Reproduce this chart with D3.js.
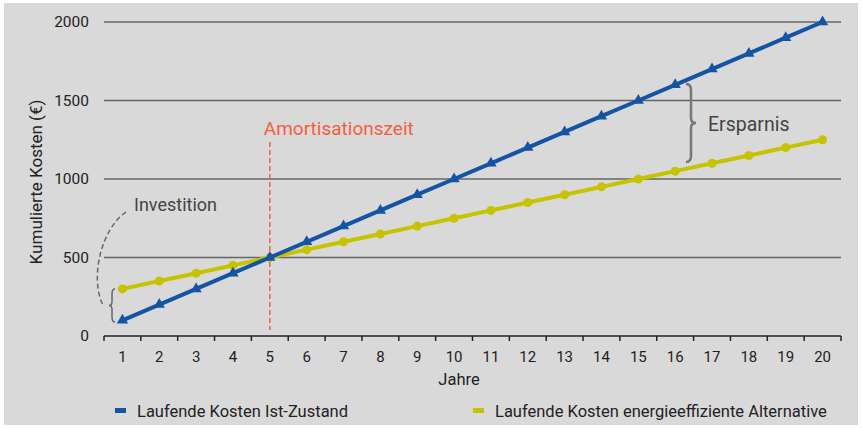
<!DOCTYPE html>
<html>
<head>
<meta charset="utf-8">
<script src="https://cdn.jsdelivr.net/npm/d3@7"></script>
<style>
  html, body { margin: 0; padding: 0; background: #fff; }
  svg { display: block; font-family: Roboto, "Liberation Sans", sans-serif; }
</style>
</head>
<body>
<figure style="margin:0"></figure>
<script>
// data
const years = d3.range(1, 21)
const istZustand = [100, 200, 300, 400, 500, 600, 700, 800, 900, 1000, 1100, 1200, 1300, 1400, 1500, 1600, 1700, 1800, 1900, 2000]
const alternative = [300, 350, 400, 450, 500, 550, 600, 650, 700, 750, 800, 850, 900, 950, 1000, 1050, 1100, 1150, 1200, 1250]
const yTicks = [0, 500, 1000, 1500, 2000]
const seriesNames = ['Laufende Kosten Ist-Zustand', 'Laufende Kosten energieeffiziente Alternative']

const blue = '#1354a6', yellow = '#c6c300', orange = '#f2603f'

const figure = document.querySelector('figure')
var svg = d3.select(figure).append('svg').attr('width', 862).attr('height', 428)

svg.append('rect')
    .attr('x', 4).attr('y', 3)
    .attr('width', 854).attr('height', 422)
    .attr('fill', '#d9d9d9')

var margin = {top: 22, left: 104, right: 21, bottom: 92},
    width = 862 - margin.left - margin.right,
    height = 428 - margin.top - margin.bottom,
    g = svg.append('g').attr('transform', 'translate(' + margin.left + ',' + margin.top + ')')

var x = d3.scaleBand().domain(years).range([0, width])
var y = d3.scaleLinear().domain([0, 2000]).range([height, 0])
var cx = d => x(d) + x.bandwidth() / 2

// grid
g.selectAll('.grid')
    .data(yTicks.filter(d => d > 0))
  .enter().append('line')
    .attr('x1', 0).attr('x2', width)
    .attr('y1', d => y(d)).attr('y2', d => y(d))
    .attr('stroke', '#666').attr('stroke-width', 1.5)

// y labels
g.selectAll('.ylab')
    .data(yTicks)
  .enter().append('text')
    .attr('x', -15).attr('y', d => y(d))
    .attr('dy', '0.35em')
    .attr('text-anchor', 'end')
    .attr('font-size', 15.5).attr('fill', '#222')
    .text(d => d)

// x axis
var xAxis = g.append('g').attr('transform', 'translate(0,' + height + ')')
xAxis.append('line').attr('x1', 0).attr('x2', width).attr('stroke', '#222').attr('stroke-width', 1.5)
xAxis.selectAll('.tick')
    .data(years.concat([21]))
  .enter().append('line')
    .attr('x1', (d, i) => i * x.bandwidth()).attr('x2', (d, i) => i * x.bandwidth())
    .attr('y1', 0).attr('y2', 5)
    .attr('stroke', '#222').attr('stroke-width', 1.5)
xAxis.selectAll('.xlab')
    .data(years)
  .enter().append('text')
    .attr('x', cx).attr('y', 26)
    .attr('text-anchor', 'middle')
    .attr('font-size', 15).attr('fill', '#222')
    .text(d => d)

svg.append('text')
    .attr('x', 459).attr('y', 385)
    .attr('text-anchor', 'middle').attr('font-size', 16.5).attr('fill', '#222')
    .text('Jahre')

svg.append('text')
    .attr('transform', 'translate(42,' + 182 + ') rotate(-90)')
    .attr('text-anchor', 'middle').attr('font-size', 17).attr('fill', '#222')
    .text('Kumulierte Kosten (€)')

// amortisation line
var xa = cx(5)
g.append('line')
    .attr('x1', xa).attr('x2', xa)
    .attr('y1', 120).attr('y2', height - 6)
    .attr('stroke', orange).attr('stroke-width', 1.5)
    .attr('stroke-dasharray', '5,3')
g.append('text')
    .attr('x', xa - 6).attr('y', 113)
    .attr('font-size', 19).attr('fill', orange)
    .text('Amortisationszeit')

// lines
var line = d3.line().x((d, i) => cx(years[i])).y(d => y(d))

g.append('path').datum(alternative)
    .attr('d', line).attr('fill', 'none')
    .attr('stroke', yellow).attr('stroke-width', 4)
g.selectAll('.dot').data(alternative)
  .enter().append('circle')
    .attr('cx', (d, i) => cx(years[i])).attr('cy', d => y(d))
    .attr('r', 4.5).attr('fill', yellow)

g.append('path').datum(istZustand)
    .attr('d', line).attr('fill', 'none')
    .attr('stroke', blue).attr('stroke-width', 4)
g.selectAll('.tri').data(istZustand)
  .enter().append('path')
    .attr('d', d3.symbol().type(d3.symbolTriangle).size(55))
    .attr('transform', (d, i) => 'translate(' + cx(years[i]) + ',' + y(d) + ')')
    .attr('fill', blue)

// braces
function brace(x0, y0, y1, w) {
  var m = (y0 + y1) / 2
  return 'M' + x0 + ',' + y0 +
    ' Q' + (x0 + w) + ',' + y0 + ' ' + (x0 + w) + ',' + (y0 + 6) +
    ' L' + (x0 + w) + ',' + (m - 5) +
    ' Q' + (x0 + w) + ',' + m + ' ' + (x0 + 2 * w) + ',' + m +
    ' Q' + (x0 + w) + ',' + m + ' ' + (x0 + w) + ',' + (m + 5) +
    ' L' + (x0 + w) + ',' + (y1 - 6) +
    ' Q' + (x0 + w) + ',' + y1 + ' ' + x0 + ',' + y1
}
function braceLeft(x0, y0, y1, w) {
  var m = (y0 + y1) / 2
  return 'M' + x0 + ',' + y0 +
    ' Q' + (x0 - w) + ',' + y0 + ' ' + (x0 - w) + ',' + (y0 + 5) +
    ' L' + (x0 - w) + ',' + (m - 4) +
    ' Q' + (x0 - w) + ',' + m + ' ' + (x0 - 2 * w) + ',' + m +
    ' Q' + (x0 - w) + ',' + m + ' ' + (x0 - w) + ',' + (m + 4) +
    ' L' + (x0 - w) + ',' + (y1 - 5) +
    ' Q' + (x0 - w) + ',' + y1 + ' ' + x0 + ',' + y1
}

svg.append('path')
    .attr('d', brace(686, 84, 162, 5))
    .attr('fill', 'none').attr('stroke', '#777').attr('stroke-width', 2.5)
svg.append('text')
    .attr('x', 708).attr('y', 131)
    .attr('font-size', 19.5).attr('fill', '#444')
    .text('Ersparnis')

svg.append('path')
    .attr('d', braceLeft(115, 289, 322, 3))
    .attr('fill', 'none').attr('stroke', '#666').attr('stroke-width', 1.5)
svg.append('path')
    .attr('d', 'M126,212 C100,230 90,280 103,305')
    .attr('fill', 'none').attr('stroke', '#666').attr('stroke-width', 1.5)
    .attr('stroke-dasharray', '5,3')
svg.append('text')
    .attr('x', 134).attr('y', 211)
    .attr('font-size', 18).attr('fill', '#444')
    .text('Investition')

// legend
var legend = svg.append('g')
var lx = [115, 473]
legend.selectAll('rect').data(seriesNames)
  .enter().append('rect')
    .attr('x', (d, i) => lx[i]).attr('y', 408)
    .attr('width', 11).attr('height', 5)
    .attr('fill', (d, i) => i ? yellow : blue)
legend.selectAll('text').data(seriesNames)
  .enter().append('text')
    .attr('x', (d, i) => lx[i] + 22).attr('y', 417)
    .attr('font-size', 16.5).attr('fill', '#222')
    .text(d => d)
</script>
</body>
</html>
